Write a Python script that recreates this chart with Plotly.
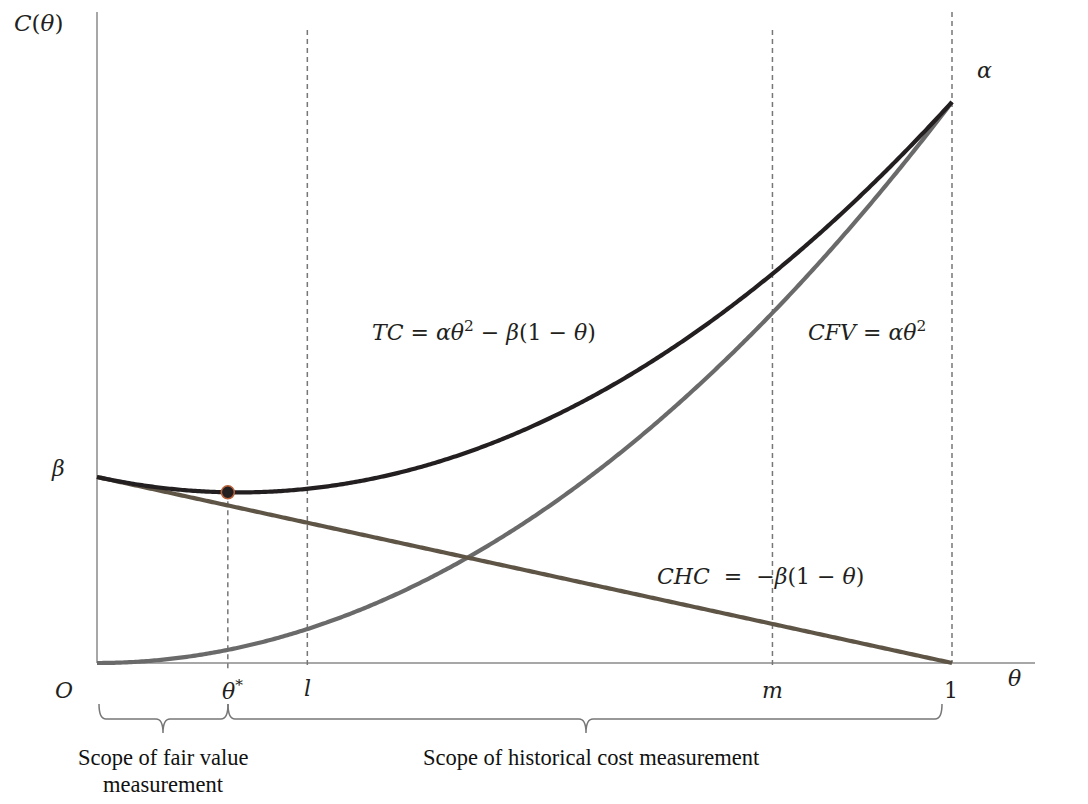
import numpy as np
import plotly.graph_objects as go

# ---- data ----
alpha = 1.0          # C(1) = alpha
beta = 0.3316        # C(0) = beta
theta_star = 0.153
l_pos = 0.246
m_pos = 0.790
theta = np.linspace(0, 1, 401)
cfv = alpha * theta ** 2
chc = beta * (1 - theta)
tc = cfv + chc
tc_star = alpha * theta_star ** 2 + beta * (1 - theta_star)

# ---- pixel helpers (layout only, screenshot pixel coordinates) ----
PX0, PX1, PY0, PYA = 97, 952, 663, 102
def X(px):
    return (px - PX0) / (PX1 - PX0)
def Y(py):
    return (PY0 - py) / (PY0 - PYA) * alpha

OFF = 8            # page body margin
W, H = 1072, 788
MATH = "DejaVu Serif"
TEXT = "Liberation Serif"

fig = go.Figure()
fig.add_trace(go.Scatter(x=theta, y=cfv, mode="lines",
                         line=dict(color="#6a6a6a", width=4.2, simplify=False), hoverinfo="skip"))
fig.add_trace(go.Scatter(x=theta, y=chc, mode="lines",
                         line=dict(color="#5f5546", width=4.2, simplify=False), hoverinfo="skip"))
fig.add_trace(go.Scatter(x=theta, y=tc, mode="lines",
                         line=dict(color="#231f20", width=4.2, simplify=False), hoverinfo="skip"))
fig.add_trace(go.Scatter(x=[theta_star], y=[tc_star], mode="markers",
                         marker=dict(size=13, color="#231f20",
                                     line=dict(color="#b8623c", width=1.5)),
                         hoverinfo="skip"))

shapes = []
axc = "#8a8a8a"
shapes.append(dict(type="line", x0=X(97), x1=X(97), y0=Y(663), y1=Y(12),
                   line=dict(color=axc, width=1.5), layer="below"))
shapes.append(dict(type="line", x0=X(97), x1=X(1035), y0=Y(663), y1=Y(663),
                   line=dict(color=axc, width=1.5), layer="below"))
dc = "#777777"
dash = "5px,4px"
shapes.append(dict(type="line", x0=theta_star, x1=theta_star, y0=tc_star, y1=Y(672),
                   line=dict(color=dc, width=1.5, dash=dash), layer="below"))
shapes.append(dict(type="line", x0=l_pos, x1=l_pos, y0=Y(30), y1=Y(667),
                   line=dict(color=dc, width=1.5, dash=dash), layer="below"))
shapes.append(dict(type="line", x0=m_pos, x1=m_pos, y0=Y(30), y1=Y(667),
                   line=dict(color=dc, width=1.5, dash=dash), layer="below"))
shapes.append(dict(type="line", x0=1, x1=1, y0=Y(12), y1=Y(663),
                   line=dict(color=dc, width=1.5, dash=dash), layer="below"))

def brace(x0, x1, tip, ytop=704, yline=719, ytip=733, r=7):
    pts = [
        f"M {X(x0)},{Y(ytop)}",
        f"Q {X(x0)},{Y(yline)} {X(x0 + r)},{Y(yline)}",
        f"L {X(tip - r)},{Y(yline)}",
        f"Q {X(tip)},{Y(yline)} {X(tip)},{Y(ytip)}",
        f"Q {X(tip)},{Y(yline)} {X(tip + r)},{Y(yline)}",
        f"L {X(x1 - r)},{Y(yline)}",
        f"Q {X(x1)},{Y(yline)} {X(x1)},{Y(ytop)}",
    ]
    return dict(type="path", path=" ".join(pts),
                line=dict(color="#777777", width=1.5))

shapes.append(brace(99, 228, 163))
shapes.append(brace(228, 942, 586))

ann = []
def txt(s, px, py, size=22, font=MATH, color="#231f20", xanchor="center"):
    ann.append(dict(text=s, x=X(px), y=Y(py), xref="x", yref="y", showarrow=False,
                    xanchor=xanchor, yanchor="middle",
                    font=dict(family=font, size=size, color=color)))

txt("<i>C</i>(<i>θ</i>)", 38, 23, size=23)
txt("<i>β</i>", 58, 468)
txt("<i>α</i>", 984, 70)
txt("<i>θ</i>", 1014, 678)
txt("<i>O</i>", 64, 690)
txt("<i>θ</i><sup>*</sup>", 232, 690)
txt("<i>l</i>", 307, 688)
txt("<i>m</i>", 772, 690)
txt("1", 951, 690)
txt("<i>TC</i> = <i>αθ</i><sup>2</sup> − <i>β</i>(1 − <i>θ</i>)", 370, 331, xanchor="left")
txt("<i>CFV</i> = <i>αθ</i><sup>2</sup>", 806, 331, xanchor="left")
txt("<i>CHC</i>  =  −<i>β</i>(1 − <i>θ</i>)", 655, 576, xanchor="left")
txt("Scope of fair value", 163, 757, size=22.5, font=TEXT, color="#111111")
txt("measurement", 163, 784, size=22.5, font=TEXT, color="#111111")
txt("Scope of historical cost measurement", 591, 757, size=22.5, font=TEXT, color="#111111")

fig.update_layout(
    width=W, height=H, autosize=False,
    margin=dict(l=0, r=0, t=0, b=0),
    paper_bgcolor="white", plot_bgcolor="white",
    showlegend=False,
    xaxis=dict(range=[X(OFF), X(OFF + W)], visible=False, fixedrange=True),
    yaxis=dict(range=[Y(OFF + H), Y(OFF)], visible=False, fixedrange=True),
    shapes=shapes, annotations=ann,
)
fig.write_html("out.html")
